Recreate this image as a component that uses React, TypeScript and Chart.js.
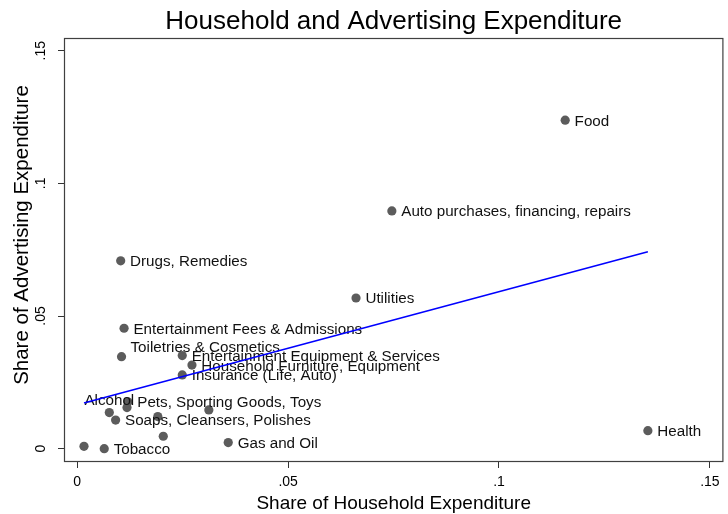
import React, { useEffect, useRef } from "react";
import { Chart, registerables } from "chart.js";

Chart.register(...registerables);

const categories = [
  "Food",
  "Auto purchases, financing, repairs",
  "Drugs, Remedies",
  "Utilities",
  "Entertainment Fees & Admissions",
  "Toiletries & Cosmetics",
  "Entertainment Equipment & Services",
  "Household Furniture, Equipment",
  "Insurance (Life, Auto)",
  "Pets, Sporting Goods, Toys",
  "",
  "Alcohol",
  "Soaps, Cleansers, Polishes",
  "",
  "",
  "",
  "",
  "Tobacco",
  "Gas and Oil",
  "Health",
];
const householdShare = [
  0.1157, 0.0746, 0.0103, 0.0661, 0.0111, 0.0105, 0.0249, 0.0272, 0.0249, 0.012,
  0.0118, 0.0076, 0.0091, 0.0191, 0.0312, 0.0204, 0.0016, 0.0064, 0.0358, 0.1353,
];
const advertisingShare = [
  0.1238, 0.0896, 0.0708, 0.0568, 0.0454, 0.0347, 0.0351, 0.0315, 0.0278, 0.0177,
  0.0155, 0.0136, 0.0108, 0.0121, 0.0146, 0.0047, 0.0009, 0.0, 0.0023, 0.0068,
];
// Stata-style clock positions for the marker labels
const labelPositions = [3, 3, 3, 3, 3, 1, 3, 3, 3, 3, 3, 12, 3, 3, 3, 3, 3, 3, 3, 3];
const fitX = [0.0016, 0.1353];
const fitY = [0.0172, 0.0742];
const xTicks = [0, 0.05, 0.1, 0.15];
const yTicks = [0, 0.05, 0.1, 0.15];
const titleText = "Household and Advertising Expenditure";
const xTitle = "Share of Household Expenditure";
const yTitle = "Share of Advertising Expenditure";

const FONT = '"Liberation Sans", Arial, Helvetica, sans-serif';
const tickLabel = (v: number) => (v === 0 ? "0" : String(v).replace(/^0/, ""));

export default function App() {
  const ref = useRef<HTMLCanvasElement | null>(null);

  useEffect(() => {
    document.body.style.margin = "0";
    const canvas = ref.current;
    if (!canvas) return;

    const decor = {
      id: "stataDecor",
      afterDatasetDraw(chart: any, args: any) {
        if (args.index !== 1) return;
        const ctx = chart.ctx;
        const meta = chart.getDatasetMeta(1);
        ctx.save();
        ctx.font = `15.2px ${FONT}`;
        ctx.fillStyle = "#111";
        ctx.textBaseline = "alphabetic";
        const half = 0.716 * 15.2 * 0.5;
        meta.data.forEach((el: any, i: number) => {
          const txt = categories[i];
          if (!txt) return;
          const pos = labelPositions[i];
          if (pos === 12) {
            ctx.textAlign = "center";
            ctx.fillText(txt, el.x, el.y - 12.7 + half);
          } else if (pos === 1) {
            ctx.textAlign = "left";
            ctx.fillText(txt, el.x + 9, el.y - 10 + half);
          } else {
            ctx.textAlign = "left";
            ctx.fillText(txt, el.x + 9.4, el.y + half);
          }
        });
        ctx.restore();
      },
      afterDraw(chart: any) {
        const ctx = chart.ctx;
        const { left, right, top, bottom } = chart.chartArea;
        const xs = chart.scales.x;
        const ys = chart.scales.y;
        ctx.save();
        // frame
        ctx.strokeStyle = "#404040";
        ctx.lineWidth = 1.2;
        ctx.strokeRect(left + 0.5, top + 0.5, right - left - 1, bottom - top - 1);
        // x tick labels
        ctx.fillStyle = "#000";
        ctx.font = `14px ${FONT}`;
        ctx.textAlign = "center";
        ctx.textBaseline = "alphabetic";
        xTicks.forEach((v) => {
          ctx.fillText(tickLabel(v), xs.getPixelForValue(v), 486);
        });
        // y tick labels (rotated)
        yTicks.forEach((v) => {
          ctx.save();
          ctx.translate(39.5, ys.getPixelForValue(v));
          ctx.rotate(-Math.PI / 2);
          ctx.fillText(tickLabel(v), 0, 5);
          ctx.restore();
        });
        // axis titles
        ctx.font = `19px ${FONT}`;
        ctx.fillText(xTitle, (left + right) / 2, 509);
        ctx.save();
        ctx.font = `20.5px ${FONT}`;
        ctx.translate(20.5, 235);
        ctx.rotate(-Math.PI / 2);
        ctx.fillText(yTitle, 0, 7.3);
        ctx.restore();
        // main title
        ctx.font = `26px ${FONT}`;
        ctx.fillText(titleText, (left + right) / 2, 29);
        ctx.restore();
      },
    };

    const chart = new Chart(canvas, {
      type: "scatter",
      data: {
        datasets: [
          {
            type: "line",
            label: "Fitted values",
            data: fitX.map((x, i) => ({ x, y: fitY[i] })),
            borderColor: "#0000ff",
            borderWidth: 1.6,
            pointRadius: 0,
            fill: false,
            tension: 0,
          } as any,
          {
            type: "scatter",
            label: "Share of Advertising Expenditure",
            data: householdShare.map((x, i) => ({ x, y: advertisingShare[i] })),
            backgroundColor: "#5c5c5c",
            borderWidth: 0,
            pointRadius: 4.6,
            pointHoverRadius: 4.6,
          },
        ],
      },
      options: {
        animation: false,
        responsive: false,
        devicePixelRatio: 1,
        events: [],
        layout: { padding: { top: 38, right: 2, left: 0, bottom: 0 } },
        plugins: { legend: { display: false }, tooltip: { enabled: false }, title: { display: false } },
        scales: {
          x: {
            type: "linear",
            min: -0.00314,
            max: 0.15321,
            afterBuildTicks: (s: any) => {
              s.ticks = xTicks.map((v) => ({ value: v }));
            },
            afterFit: (s: any) => {
              s.height = 52;
            },
            ticks: { display: false },
            grid: { drawOnChartArea: false, drawTicks: true, tickLength: 6, color: "#333", lineWidth: 1 },
            border: { display: false },
          },
          y: {
            type: "linear",
            min: -0.00501,
            max: 0.15478,
            afterBuildTicks: (s: any) => {
              s.ticks = yTicks.map((v) => ({ value: v }));
            },
            afterFit: (s: any) => {
              s.width = 64;
            },
            ticks: { display: false },
            grid: { drawOnChartArea: false, drawTicks: true, tickLength: 6, color: "#333", lineWidth: 1 },
            border: { display: false },
          },
        },
      },
      plugins: [decor],
    });
    return () => chart.destroy();
  }, []);

  return (
    <div style={{ width: 728, height: 514, background: "#fff" }}>
      <canvas ref={ref} width={728} height={514} style={{ display: "block" }} />
    </div>
  );
}
